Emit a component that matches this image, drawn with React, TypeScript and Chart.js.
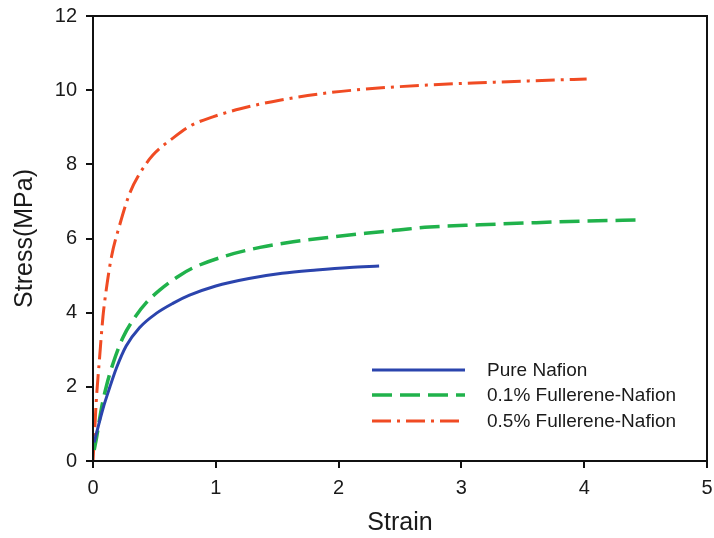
import React, { useEffect, useRef } from "react";
import { Chart, registerables } from "chart.js";

Chart.register(...registerables);

const seriesLabels = ["Pure Nafion", "0.1% Fullerene-Nafion", "0.5% Fullerene-Nafion"];

const strainPure = [0.01, 0.04, 0.081, 0.136, 0.19, 0.27, 0.38, 0.515, 0.65, 0.786, 1.0, 1.27, 1.54, 1.82, 2.09, 2.33];
const stressPure = [0.5, 0.9, 1.41, 1.98, 2.5, 3.1, 3.6, 3.98, 4.25, 4.47, 4.72, 4.92, 5.06, 5.15, 5.22, 5.26];

const strainF01 = [0.01, 0.03, 0.068, 0.11, 0.163, 0.244, 0.353, 0.434, 0.54, 0.69, 0.81, 1.08, 1.36, 1.63, 1.95, 2.22, 2.49, 2.74, 3.15, 3.55, 4.0, 4.44];
const stressF01 = [0.3, 0.65, 1.41, 2.03, 2.63, 3.33, 3.93, 4.27, 4.6, 4.97, 5.2, 5.53, 5.76, 5.91, 6.04, 6.14, 6.23, 6.31, 6.37, 6.42, 6.47, 6.5];

const strainF05 = [0.0, 0.015, 0.027, 0.054, 0.081, 0.103, 0.15, 0.217, 0.298, 0.38, 0.488, 0.664, 0.8, 0.976, 1.2, 1.52, 1.92, 2.3, 2.74, 3.15, 3.55, 4.02];
const stressF05 = [0.0, 0.9, 1.64, 2.8, 3.89, 4.5, 5.5, 6.36, 7.21, 7.75, 8.25, 8.74, 9.05, 9.28, 9.5, 9.73, 9.93, 10.05, 10.14, 10.2, 10.25, 10.3];

const xTicks = [0, 1, 2, 3, 4, 5];
const yTicks = [0, 2, 4, 6, 8, 10, 12];

const colors = ["#2b44ad", "#20b24b", "#f04b23"];
const dashes: number[][] = [[], [20, 8], [19, 6, 3, 6]];
const widths = [3, 3.5, 3];

const toPoints = (xs: number[], ys: number[]) => xs.map((x, i) => ({ x, y: ys[i] }));

const FONT = '"Liberation Sans", Arial, sans-serif';

const framePlugin = {
  id: "frame",
  afterDraw(chart: any) {
    const { ctx, chartArea } = chart;
    ctx.save();
    ctx.strokeStyle = "#111";
    ctx.lineWidth = 2;
    ctx.strokeRect(chartArea.left, chartArea.top, chartArea.right - chartArea.left, chartArea.bottom - chartArea.top);
    const rows = [370, 395, 421];
    ctx.font = `19px ${FONT}`;
    ctx.textBaseline = "middle";
    ctx.textAlign = "left";
    seriesLabels.forEach((lab, i) => {
      ctx.beginPath();
      ctx.setLineDash(dashes[i]);
      ctx.strokeStyle = colors[i];
      ctx.lineWidth = widths[i];
      ctx.moveTo(372, rows[i]);
      ctx.lineTo(465, rows[i]);
      ctx.stroke();
      ctx.setLineDash([]);
      ctx.fillStyle = "#1a1a1a";
      ctx.fillText(lab, 487, rows[i] + 1);
    });
    ctx.restore();
  },
};

export default function App() {
  const ref = useRef<HTMLCanvasElement>(null);
  useEffect(() => {
    if (!ref.current) return;
    const series = [
      toPoints(strainPure, stressPure),
      toPoints(strainF01, stressF01),
      toPoints(strainF05, stressF05),
    ];
    const chart = new Chart(ref.current, {
      type: "line",
      data: {
        datasets: series.map((d, i) => ({
          label: seriesLabels[i],
          data: d,
          borderColor: colors[i],
          borderWidth: widths[i],
          borderDash: dashes[i],
          pointRadius: 0,
          cubicInterpolationMode: "monotone" as const,
          fill: false,
        })),
      },
      options: {
        responsive: false,
        animation: false,
        layout: { padding: { top: 16, right: 7, left: 0, bottom: 0 } },
        plugins: { legend: { display: false }, tooltip: { enabled: false } },
        scales: {
          x: {
            type: "linear",
            min: 0,
            max: 5,
            afterBuildTicks: (s: any) => { s.ticks = xTicks.map((v) => ({ value: v })); },
            afterFit: (s: any) => { s.height = 77; s.paddingLeft = 0; s.paddingRight = 0; },
            grid: { drawOnChartArea: false, drawTicks: true, tickLength: 7, color: "#111", lineWidth: 2 },
            border: { display: true, color: "#111", width: 2 },
            ticks: { color: "#1a1a1a", font: { family: FONT, size: 20 }, padding: 8 },
            title: { display: true, text: "Strain", color: "#1a1a1a", font: { family: FONT, size: 25 }, padding: { top: 0, bottom: 0 } },
          },
          y: {
            type: "linear",
            min: 0,
            max: 12,
            afterBuildTicks: (s: any) => { s.ticks = yTicks.map((v) => ({ value: v })); },
            afterFit: (s: any) => { s.width = 93; s.paddingTop = 0; s.paddingBottom = 0; },
            grid: { drawOnChartArea: false, drawTicks: true, tickLength: 7, color: "#111", lineWidth: 2 },
            border: { display: true, color: "#111", width: 2 },
            ticks: { color: "#1a1a1a", font: { family: FONT, size: 20 }, padding: 9 },
            title: { display: true, text: "Stress(MPa)", color: "#1a1a1a", font: { family: FONT, size: 25 }, padding: { top: 10, bottom: 0 } },
          },
        },
      },
      plugins: [framePlugin],
    });
    return () => chart.destroy();
  }, []);
  return (
    <div style={{ position: "absolute", left: 0, top: 0, width: 714, height: 538, background: "#fff" }}>
      <canvas ref={ref} width={714} height={538} style={{ display: "block" }} />
    </div>
  );
}
